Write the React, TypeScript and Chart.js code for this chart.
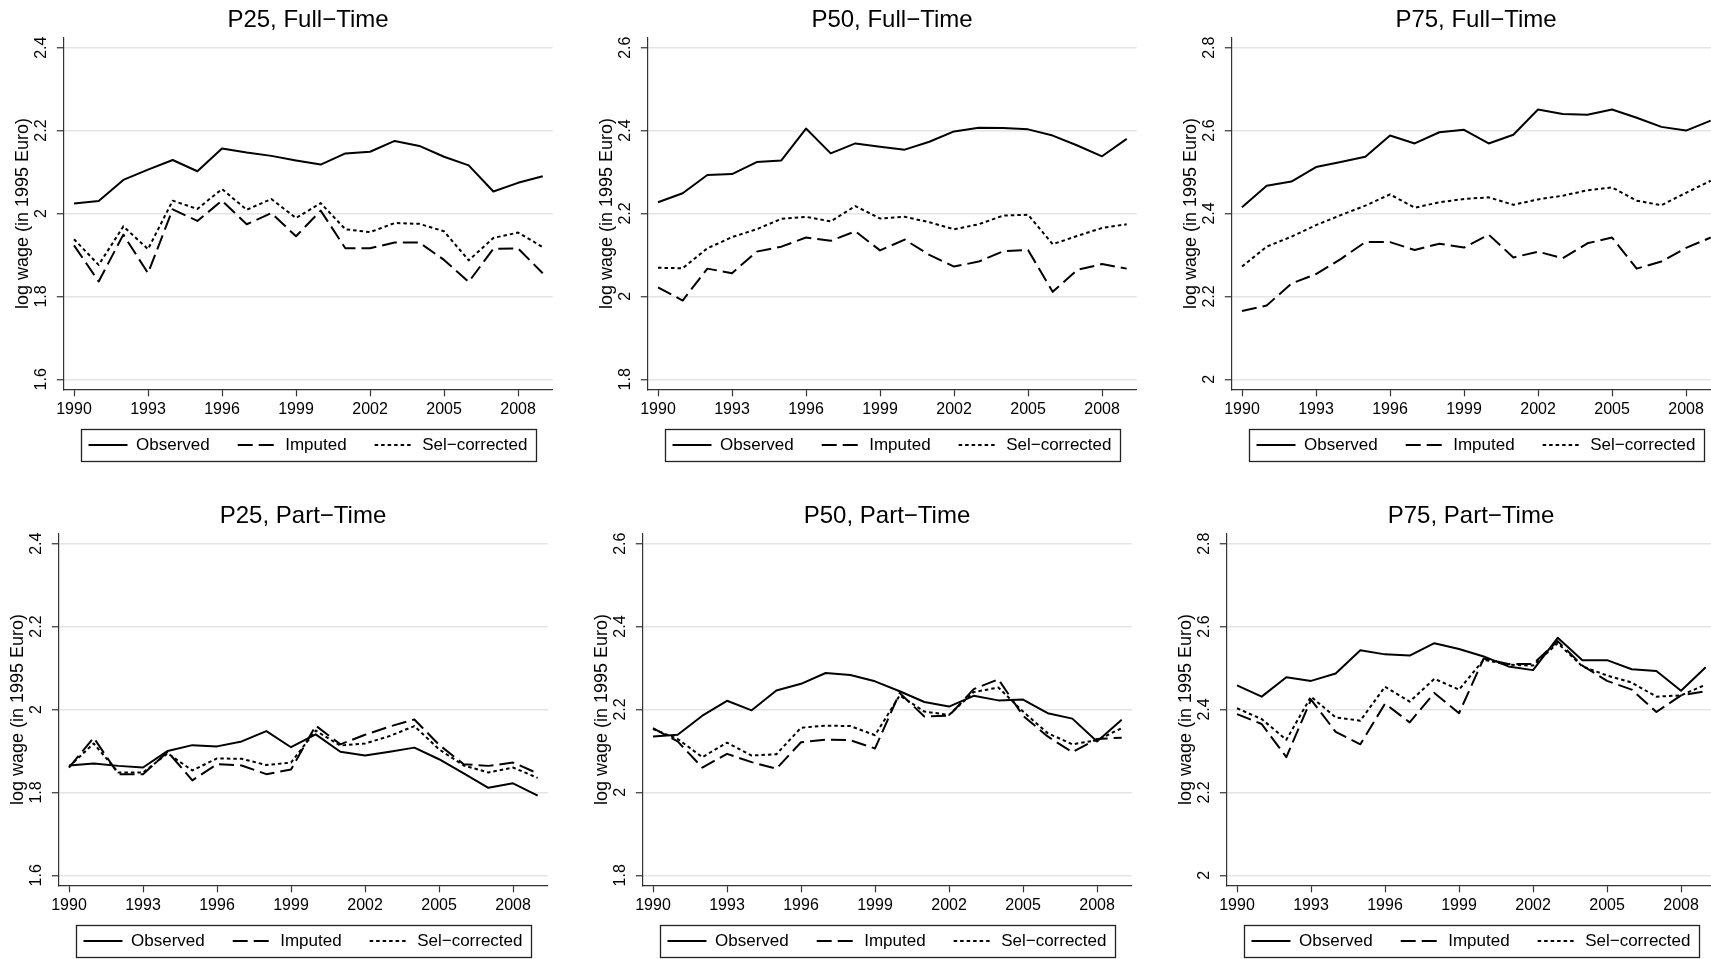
import React, { useEffect, useRef } from "react";
import { Chart, registerables } from "chart.js";

Chart.register(...registerables);

const years = [1990, 1991, 1992, 1993, 1994, 1995, 1996, 1997, 1998, 1999, 2000, 2001, 2002, 2003, 2004, 2005, 2006, 2007, 2008, 2009];
const xTicks = [1990, 1993, 1996, 1999, 2002, 2005, 2008];
const yTicksP25 = [1.6, 1.8, 2.0, 2.2, 2.4];
const yTicksP50 = [1.8, 2.0, 2.2, 2.4, 2.6];
const yTicksP75 = [2.0, 2.2, 2.4, 2.6, 2.8];
const seriesNames = ["Observed", "Imputed", "Sel\u2212corrected"];
const yAxisTitle = "log wage (in 1995 Euro)";

const p25FullObserved = [2.024, 2.030, 2.081, 2.106, 2.129, 2.102, 2.157, 2.147, 2.139, 2.128, 2.118, 2.145, 2.149, 2.175, 2.163, 2.137, 2.116, 2.053, 2.074, 2.090];
const p25FullImputed = [1.923, 1.836, 1.949, 1.856, 2.010, 1.982, 2.031, 1.974, 2.001, 1.945, 2.007, 1.916, 1.916, 1.930, 1.930, 1.888, 1.835, 1.915, 1.916, 1.856];
const p25FullSel = [1.938, 1.876, 1.969, 1.914, 2.031, 2.011, 2.059, 2.009, 2.035, 1.989, 2.025, 1.962, 1.955, 1.977, 1.975, 1.957, 1.887, 1.941, 1.954, 1.919];

const p50FullObserved = [2.227, 2.249, 2.293, 2.295, 2.324, 2.328, 2.405, 2.345, 2.369, 2.361, 2.354, 2.373, 2.398, 2.407, 2.406, 2.403, 2.388, 2.364, 2.338, 2.380];
const p50FullImputed = [2.022, 1.990, 2.067, 2.056, 2.108, 2.120, 2.142, 2.134, 2.157, 2.111, 2.137, 2.100, 2.072, 2.084, 2.109, 2.112, 2.011, 2.064, 2.078, 2.067];
const p50FullSel = [2.069, 2.068, 2.116, 2.143, 2.162, 2.187, 2.192, 2.181, 2.218, 2.188, 2.192, 2.179, 2.162, 2.174, 2.195, 2.197, 2.126, 2.146, 2.165, 2.174];

const p75FullObserved = [2.415, 2.467, 2.477, 2.512, 2.524, 2.537, 2.588, 2.569, 2.596, 2.602, 2.569, 2.590, 2.651, 2.640, 2.638, 2.651, 2.631, 2.609, 2.600, 2.624];
const p75FullImputed = [2.165, 2.178, 2.231, 2.254, 2.290, 2.331, 2.331, 2.312, 2.327, 2.318, 2.349, 2.294, 2.308, 2.292, 2.328, 2.342, 2.267, 2.284, 2.317, 2.342];
const p75FullSel = [2.272, 2.320, 2.344, 2.372, 2.396, 2.419, 2.446, 2.414, 2.427, 2.435, 2.439, 2.421, 2.434, 2.443, 2.456, 2.463, 2.431, 2.420, 2.450, 2.479];

const p25PartObserved = [1.865, 1.870, 1.864, 1.860, 1.900, 1.914, 1.911, 1.923, 1.948, 1.909, 1.940, 1.898, 1.889, 1.898, 1.908, 1.880, 1.846, 1.811, 1.822, 1.792];
const p25PartImputed = [1.860, 1.932, 1.844, 1.844, 1.898, 1.829, 1.868, 1.865, 1.844, 1.855, 1.961, 1.916, 1.939, 1.959, 1.976, 1.915, 1.868, 1.864, 1.872, 1.846];
const p25PartSel = [1.862, 1.918, 1.848, 1.848, 1.894, 1.853, 1.882, 1.881, 1.866, 1.872, 1.949, 1.913, 1.918, 1.936, 1.960, 1.904, 1.865, 1.848, 1.860, 1.835];

const p50PartObserved = [2.135, 2.139, 2.185, 2.221, 2.198, 2.246, 2.262, 2.288, 2.283, 2.268, 2.244, 2.218, 2.207, 2.233, 2.222, 2.224, 2.191, 2.178, 2.123, 2.175];
const p50PartImputed = [2.155, 2.123, 2.060, 2.093, 2.073, 2.057, 2.121, 2.127, 2.126, 2.106, 2.240, 2.183, 2.185, 2.249, 2.273, 2.185, 2.135, 2.097, 2.129, 2.132];
const p50PartSel = [2.153, 2.129, 2.085, 2.120, 2.089, 2.092, 2.156, 2.161, 2.160, 2.138, 2.234, 2.195, 2.187, 2.242, 2.253, 2.195, 2.143, 2.116, 2.126, 2.155];

const p75PartObserved = [2.458, 2.431, 2.478, 2.469, 2.487, 2.543, 2.533, 2.530, 2.560, 2.546, 2.528, 2.504, 2.495, 2.573, 2.519, 2.519, 2.497, 2.493, 2.445, 2.502];
const p75PartImputed = [2.389, 2.365, 2.285, 2.424, 2.346, 2.316, 2.414, 2.369, 2.440, 2.391, 2.523, 2.510, 2.510, 2.565, 2.506, 2.469, 2.448, 2.394, 2.434, 2.444];
const p75PartSel = [2.403, 2.377, 2.327, 2.431, 2.381, 2.373, 2.455, 2.419, 2.474, 2.448, 2.520, 2.508, 2.506, 2.560, 2.504, 2.482, 2.465, 2.431, 2.434, 2.460];

const FONT = "'Liberation Sans', Arial, Helvetica, sans-serif";
const CW = 584;
const CH = 496;
const LEGEND_GAP = 19.2;
const LEGEND_SPREAD = 25;

const legendPlacePlugin = {
  id: "legendPlace",
  afterLayout(chart: any) {
    const lg = chart.legend;
    const ca = chart.chartArea;
    if (!lg || !ca) return;
    lg.left = ca.left - LEGEND_SPREAD;
    lg.right = ca.right + LEGEND_SPREAD;
    lg.width = lg.right - lg.left;
    const h = lg.height;
    lg.top = ca.bottom + LEGEND_GAP;
    lg.bottom = lg.top + h;
  },
  afterDraw(chart: any) {
    const lg = chart.legend;
    if (!lg || !lg.legendHitBoxes || !lg.legendHitBoxes.length) return;
    const hb = lg.legendHitBoxes;
    const first = hb[0];
    const last = hb[hb.length - 1];
    const l = first.left - 8;
    const r = last.left + last.width + 8;
    const cy = first.top + first.height / 2;
    const ctx = chart.ctx;
    ctx.save();
    ctx.strokeStyle = "#222";
    ctx.lineWidth = 1.3;
    ctx.setLineDash([]);
    ctx.strokeRect(Math.round(l) + 0.5, Math.round(cy - 16) + 0.5, Math.round(r - l), 32);
    ctx.restore();
  },
};

type PanelProps = {
  title: string;
  yTicks: number[];
  observed: number[];
  imputed: number[];
  sel: number[];
  left: number;
  top: number;
};

function Panel({ title, yTicks, observed, imputed, sel, left, top }: PanelProps) {
  const ref = useRef<HTMLCanvasElement>(null);
  useEffect(() => {
    if (!ref.current) return;
    const toPts = (arr: number[]) => years.map((yr, i) => ({ x: yr, y: arr[i] }));
    const yPad = 0.0241;
    const chart = new Chart(ref.current, {
      type: "line",
      data: {
        datasets: [
          { label: seriesNames[0], data: toPts(observed), borderColor: "#000", backgroundColor: "#000", borderWidth: 2, pointRadius: 0, borderDash: [], tension: 0, borderJoinStyle: "round" },
          { label: seriesNames[1], data: toPts(imputed), borderColor: "#000", backgroundColor: "#000", borderWidth: 2, pointRadius: 0, borderDash: [15, 6], tension: 0, borderJoinStyle: "round" },
          { label: seriesNames[2], data: toPts(sel), borderColor: "#000", backgroundColor: "#000", borderWidth: 2, pointRadius: 0, borderDash: [3.5, 3], tension: 0, borderJoinStyle: "round" },
        ],
      } as any,
      options: {
        responsive: false,
        animation: false,
        devicePixelRatio: 1,
        events: [],
        layout: { padding: { left: 0, right: 31.3, top: 0, bottom: 11.7 } },
        plugins: {
          title: {
            display: true,
            text: title,
            fullSize: false,
            color: "#000",
            font: { family: FONT, size: 24, weight: "normal", lineHeight: 1.2 },
            padding: { top: 6.3, bottom: 2.6 },
          },
          legend: {
            display: true,
            position: "bottom",
            fullSize: true,
            labels: {
              usePointStyle: true,
              pointStyle: "line",
              pointStyleWidth: 39,
              boxHeight: 17,
              padding: 28,
              color: "#000",
              font: { family: FONT, size: 17 },
              generateLabels: (ch: any) => {
                const items = (Chart as any).defaults.plugins.legend.labels.generateLabels(ch);
                items.forEach((it: any) => {
                  const ds = ch.data.datasets[it.datasetIndex];
                  it.lineDash = ds.borderDash;
                  it.lineWidth = 2;
                  it.strokeStyle = "#000";
                  it.fillStyle = "#000";
                  it.pointStyle = "line";
                  it.lineCap = "butt";
                });
                return items;
              },
            },
          },
          tooltip: { enabled: false },
        },
        scales: {
          x: {
            type: "linear",
            position: "bottom",
            min: 1989.566,
            max: 2009.405,
            afterBuildTicks: (s: any) => {
              s.ticks = xTicks.map((v) => ({ value: v }));
            },
            afterFit: (s: any) => {
              s.height = 40;
            },
            grid: { display: true, drawOnChartArea: false, drawTicks: true, tickLength: 7, tickColor: "#333", tickWidth: 1.2 },
            border: { display: true, color: "#333", width: 1.2 },
            ticks: {
              color: "#000",
              font: { family: FONT, size: 16 },
              padding: 3.4,
              minRotation: 0,
              maxRotation: 0,
              autoSkip: false,
              callback: (v: any) => String(v),
            },
          },
          y: {
            type: "linear",
            position: "left",
            min: yTicks[0] - yPad,
            max: yTicks[yTicks.length - 1] + yPad,
            afterBuildTicks: (s: any) => {
              s.ticks = yTicks.map((v) => ({ value: v }));
            },
            afterFit: (s: any) => {
              s.width = 63.3;
            },
            grid: { display: true, color: "#e4e4e4", lineWidth: 1.5, drawTicks: true, tickLength: 6.5, tickColor: "#333", tickWidth: 1.2 },
            border: { display: true, color: "#333", width: 1.2 },
            ticks: {
              color: "#000",
              font: { family: FONT, size: 16 },
              padding: 4,
              minRotation: 90,
              maxRotation: 90,
              crossAlign: "center",
              autoSkip: false,
              callback: (v: any) => {
                const n = Number(v);
                return Math.abs(n - Math.round(n)) < 1e-9 ? String(Math.round(n)) : n.toFixed(1);
              },
            },
            title: {
              display: true,
              text: yAxisTitle,
              color: "#000",
              font: { family: FONT, size: 18, lineHeight: 1.2 },
              padding: { top: 12.4, bottom: 0 },
            },
          },
        },
      } as any,
      plugins: [legendPlacePlugin],
    });
    return () => chart.destroy();
  }, []);
  return (
    <canvas
      ref={ref}
      width={CW}
      height={CH}
      style={{ position: "absolute", left, top, width: CW, height: CH, display: "block" }}
    />
  );
}

export default function App() {
  return (
    <div style={{ position: "fixed", left: 0, top: 0, width: 1711, height: 959, overflow: "hidden", background: "#fff" }}>
      <Panel title={"P25, Full\u2212Time"} yTicks={yTicksP25} observed={p25FullObserved} imputed={p25FullImputed} sel={p25FullSel} left={0} top={0} />
      <Panel title={"P50, Full\u2212Time"} yTicks={yTicksP50} observed={p50FullObserved} imputed={p50FullImputed} sel={p50FullSel} left={584} top={0} />
      <Panel title={"P75, Full\u2212Time"} yTicks={yTicksP75} observed={p75FullObserved} imputed={p75FullImputed} sel={p75FullSel} left={1168} top={0} />
      <Panel title={"P25, Part\u2212Time"} yTicks={yTicksP25} observed={p25PartObserved} imputed={p25PartImputed} sel={p25PartSel} left={-5} top={496} />
      <Panel title={"P50, Part\u2212Time"} yTicks={yTicksP50} observed={p50PartObserved} imputed={p50PartImputed} sel={p50PartSel} left={579} top={496} />
      <Panel title={"P75, Part\u2212Time"} yTicks={yTicksP75} observed={p75PartObserved} imputed={p75PartImputed} sel={p75PartSel} left={1163} top={496} />
    </div>
  );
}
